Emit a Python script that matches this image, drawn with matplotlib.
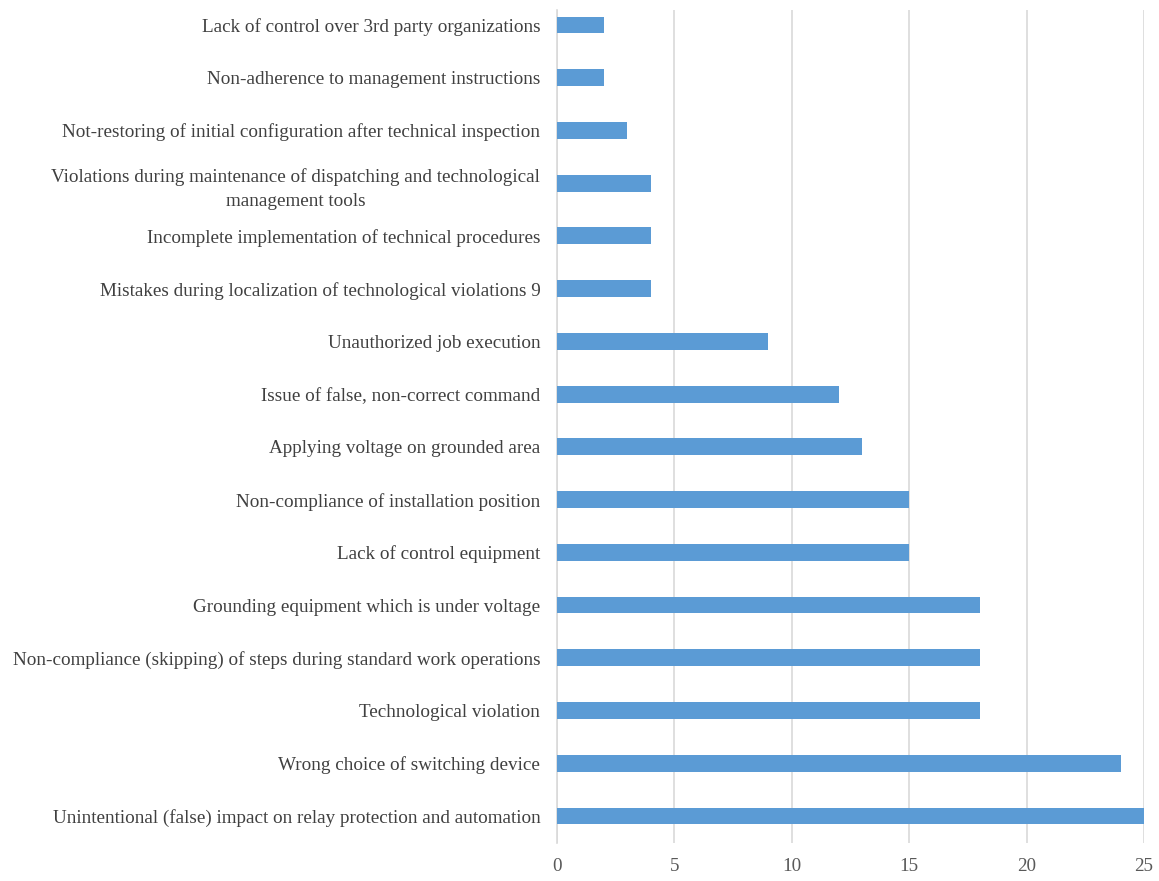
import matplotlib
matplotlib.use("Agg")
import matplotlib.pyplot as plt

categories = [
    "Unintentional (false) impact on relay protection and automation",
    "Wrong choice of switching device",
    "Technological violation",
    "Non-compliance (skipping) of steps during standard work operations",
    "Grounding equipment which is under voltage",
    "Lack of control equipment",
    "Non-compliance of installation position",
    "Applying voltage on grounded area",
    "Issue of false, non-correct command",
    "Unauthorized job execution",
    "Mistakes during localization of technological violations 9",
    "Incomplete implementation of technical procedures",
    "Violations during maintenance of dispatching and technological\nmanagement tools",
    "Not-restoring of initial configuration after technical inspection",
    "Non-adherence to management instructions",
    "Lack of control over 3rd party organizations",
]
values = [25, 24, 18, 18, 18, 15, 15, 13, 12, 9, 4, 4, 4, 3, 2, 2]
xticks = [0, 5, 10, 15, 20, 25]

plt.rcParams['font.family'] = ['Liberation Serif', 'DejaVu Serif']

W, H = 1159, 881
fig = plt.figure(figsize=(W / 100, H / 100), dpi=100)
left, right, top, bottom = 557, 1144, 10, 843
ax = fig.add_axes([left / W, 1 - bottom / H, (right - left) / W, (bottom - top) / H])

pos = list(range(len(categories)))
ax.barh(pos, values, height=0.32, color="#5B9BD5", zorder=3)

ax.set_xlim(0, 25)
spacing = 52.7
ax.set_ylim(-27 / spacing, 15 + (25 - 10) / spacing)

ax.set_xticks(xticks)
ax.set_xticklabels([str(t) for t in xticks], fontsize=13.8, color="#595959")
ax.set_yticks(pos)
labels = ax.set_yticklabels(categories, fontsize=13.8, color="#404040")
for lb in labels:
    lb.set_multialignment('center')
    lb.set_linespacing(1.6)

ax.tick_params(axis='x', length=0, pad=11)
ax.tick_params(axis='y', length=0, pad=12)
ax.grid(axis='x', color="#D9D9D9", linewidth=1.2, zorder=0)
for s in ["top", "right", "bottom"]:
    ax.spines[s].set_visible(False)
ax.spines["left"].set_color("#D9D9D9")
ax.spines["left"].set_linewidth(1.2)

fig.savefig("out.png", dpi=100, facecolor="white")
